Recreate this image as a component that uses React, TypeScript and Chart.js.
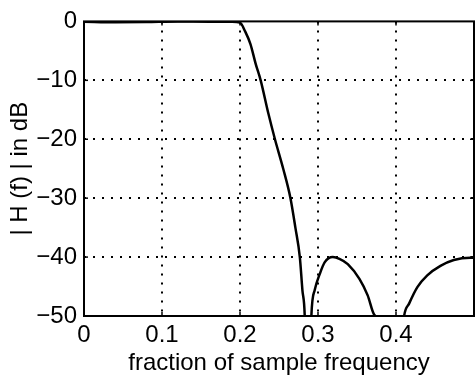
import React, { useEffect, useRef } from "react";
import { Chart, registerables } from "chart.js";

Chart.register(...registerables);

// Frequency (fraction of sample frequency) and magnitude response in dB
const frequency = [
  0, 0.04, 0.08, 0.12, 0.16, 0.19, 0.2, 0.2066, 0.2134, 0.2201, 0.2265, 0.2363,
  0.2448, 0.2554, 0.2647, 0.271, 0.2767, 0.28, 0.283, 0.2872, 0.2915, 0.2958,
  0.3022, 0.3085, 0.319, 0.3275, 0.3382, 0.3531, 0.3637, 0.3722, 0.3735, 0.392,
  0.4104, 0.4168, 0.4274, 0.4401, 0.457, 0.4741, 0.4953, 0.5,
];
const magnitudeDb = [
  -0.05, -0.15, -0.1, 0, -0.05, -0.05, -0.2, -1.7, -3.85, -7.2, -10, -15.6,
  -20, -25, -30, -35, -40, -45.6, -50, -75, -50, -45.6,
  -42.9, -40.9, -40, -40.3, -41.2, -43.7, -46.5, -49.8, -50, -75,
  -50, -47.9, -45.1, -43.1, -41.5, -40.5, -40.1, -40.1,
];

const xTickValues = [0, 0.1, 0.2, 0.3, 0.4, 0.5];
const xTickLabels = ["0", "0.1", "0.2", "0.3", "0.4", ""];
const yTickValues = [0, -10, -20, -30, -40, -50];
const yTickLabels = ["0", "\u221210", "\u221220", "\u221230", "\u221240", "\u221250"];
const xTitle = "fraction of sample frequency";
const yTitle = "| H (f) | in dB";

const FONT = "'Liberation Sans', Arial, Helvetica, sans-serif";

const framePlugin = {
  id: "frame",
  afterDatasetsDraw(chart: any) {
    const { ctx, chartArea: a, scales } = chart;
    ctx.save();
    ctx.strokeStyle = "#000";
    ctx.lineWidth = 2;
    ctx.strokeRect(a.left, a.top, a.right - a.left, a.bottom - a.top);
    ctx.lineWidth = 1.5;
    const len = 4;
    const seg = (x1: number, y1: number, x2: number, y2: number) => {
      ctx.beginPath();
      ctx.moveTo(x1, y1);
      ctx.lineTo(x2, y2);
      ctx.stroke();
    };
    xTickValues.slice(1, -1).forEach((v) => {
      const x = scales.x.getPixelForValue(v);
      seg(x, a.bottom, x, a.bottom - len);
      seg(x, a.top, x, a.top + len);
    });
    yTickValues.slice(1, -1).forEach((v) => {
      const y = scales.y.getPixelForValue(v);
      seg(a.left, y, a.left + len, y);
      seg(a.right, y, a.right - len, y);
    });
    ctx.restore();
  },
};

export default function App() {
  const canvasRef = useRef<HTMLCanvasElement | null>(null);

  useEffect(() => {
    const canvas = canvasRef.current;
    if (!canvas) return;
    const gridColor = (c: any) =>
      c.index === 0 || c.index === 5 ? "rgba(0,0,0,0)" : "#000";
    const chart = new Chart(canvas, {
      type: "line",
      data: {
        datasets: [
          {
            data: frequency.map((f, i) => ({ x: f, y: magnitudeDb[i] })),
            borderColor: "#000",
            borderWidth: 2.5,
            pointRadius: 0,
            fill: false,
            cubicInterpolationMode: "monotone",
          },
        ],
      },
      options: {
        animation: false,
        responsive: false,
        devicePixelRatio: 1,
        layout: { padding: { top: 17, right: 2.5, left: 0, bottom: 0 } },
        plugins: {
          legend: { display: false },
          tooltip: { enabled: false },
        },
        scales: {
          x: {
            type: "linear",
            min: 0,
            max: 0.5,
            afterFit: (s: any) => {
              s.height = 67;
            },
            ticks: {
              stepSize: 0.1,
              autoSkip: false,
              maxRotation: 0,
              padding: 5,
              color: "#000",
              font: { family: FONT, size: 24 },
              callback: (v: any) => {
                const i = xTickValues.findIndex((t) => Math.abs(t - Number(v)) < 1e-6);
                return i >= 0 ? xTickLabels[i] : "";
              },
            },
            grid: {
              color: gridColor,
              lineWidth: 2,
              drawTicks: false,
            },
            border: { display: false, dash: [2, 7] },
            title: {
              display: true,
              text: xTitle,
              color: "#000",
              font: { family: FONT, size: 24 },
              padding: { top: 0, bottom: 5 },
            },
          },
          y: {
            type: "linear",
            min: -50,
            max: 0,
            afterFit: (s: any) => {
              s.width = 84;
            },
            ticks: {
              stepSize: 10,
              padding: 7,
              color: "#000",
              font: { family: FONT, size: 24 },
              callback: (v: any) => {
                const i = yTickValues.findIndex((t) => Math.abs(t - Number(v)) < 1e-6);
                return i >= 0 ? yTickLabels[i] : "";
              },
            },
            grid: {
              color: gridColor,
              lineWidth: 2,
              drawTicks: false,
            },
            border: { display: false, dash: [2, 7] },
            title: {
              display: true,
              text: yTitle,
              color: "#000",
              font: { family: FONT, size: 24 },
              padding: { top: 6, bottom: 0 },
            },
          },
        },
      },
      plugins: [framePlugin],
    } as any);
    return () => chart.destroy();
  }, []);

  return (
    <div
      style={{
        position: "fixed",
        left: 0,
        top: 0,
        width: 476,
        height: 383,
        overflow: "hidden",
        background: "#fff",
      }}
    >
      <canvas ref={canvasRef} width={479} height={383} style={{ display: "block" }} />
    </div>
  );
}
